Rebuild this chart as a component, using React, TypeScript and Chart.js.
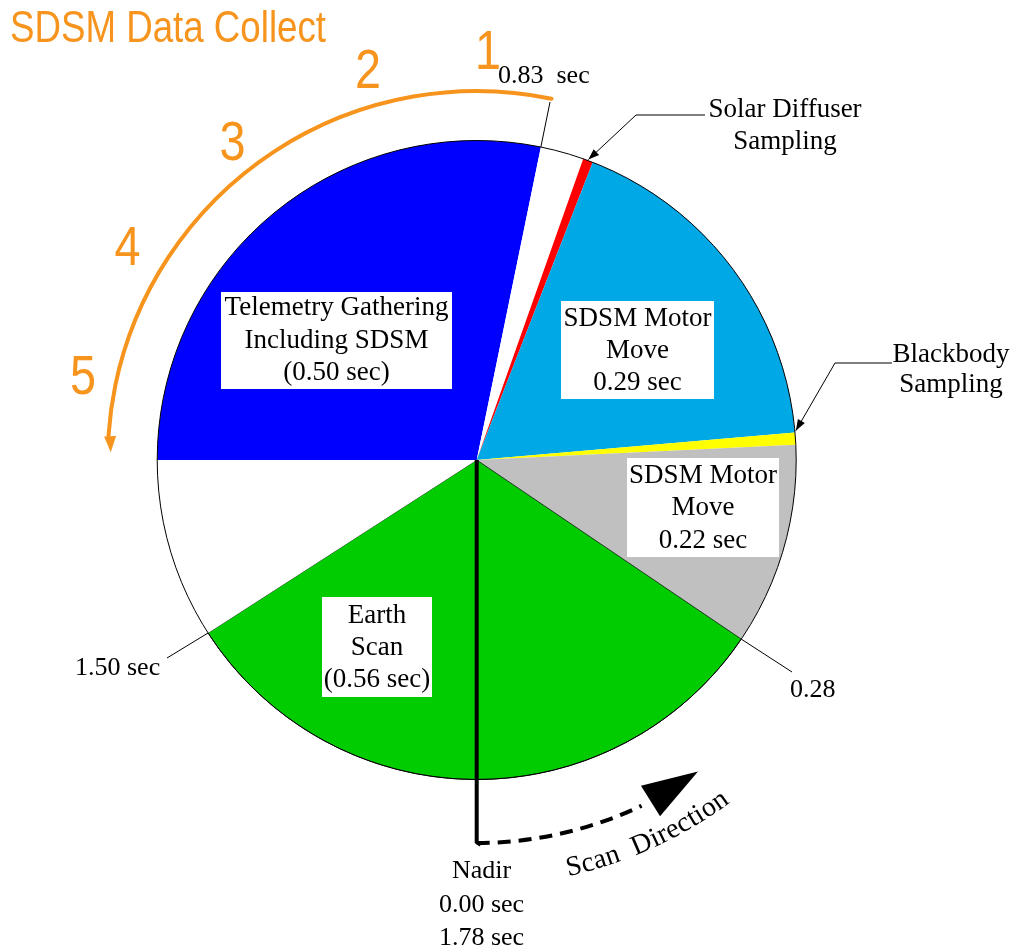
import React, { useEffect, useRef } from "react";
import { Chart, registerables } from "chart.js";

Chart.register(...registerables);

// ---- data (seconds of the 1.78 s scan) ----
const segmentNames = [
  "Telemetry Gathering Including SDSM",
  "Gap (after 0.83 sec)",
  "Solar Diffuser Sampling",
  "SDSM Motor Move (0.29 sec)",
  "Blackbody Sampling",
  "SDSM Motor Move (0.22 sec)",
  "Earth Scan",
  "Gap (before 1.50 sec)",
];
const segmentSeconds = [0.502, 0.039, 0.009, 0.315, 0.011, 0.182, 0.559, 0.162];
const segmentColors = ["#0000FF", "#FFFFFF", "#FF0000", "#00A8E6", "#FFFF00", "#C0C0C0", "#00CC00", "#FFFFFF"];
const segmentBorderWidths = [0, 0, 0, 0, 0, 0, 1, 0];

const TITLE = "SDSM Data Collect";
const stepLabels = ["1", "2", "3", "4", "5"];
const telemetryLabel = ["Telemetry Gathering", "Including SDSM", "(0.50 sec)"];
const motorMove1Label = ["SDSM Motor", "Move", "0.29 sec"];
const motorMove2Label = ["SDSM Motor", "Move", "0.22 sec"];
const earthLabel = ["Earth", "Scan", "(0.56 sec)"];
const solarLabel = ["Solar Diffuser", "Sampling"];
const blackbodyLabel = ["Blackbody", "Sampling"];
const nadirLabel = ["Nadir", "0.00 sec", "1.78 sec"];
const time083 = "0.83  sec";
const time150 = "1.50 sec";
const time028 = "0.28";
const scanText = "Scan  Direction";

const ORANGE = "#F7941D";
const SERIF = "'Liberation Serif', 'Times New Roman', serif";
const SANS = "'Liberation Sans Narrow', 'Arial Narrow', 'Liberation Sans', Arial, sans-serif";

const rad = (d: number) => (d * Math.PI) / 180;

const overlayPlugin = {
  id: "sdsmOverlay",
  afterDatasetsDraw(chart: any) {
    const ctx: CanvasRenderingContext2D = chart.ctx;
    const arcs = chart.getDatasetMeta(0).data as any[];
    const cx = arcs[0].x;
    const cy = arcs[0].y;
    const R = arcs[0].outerRadius;
    const P = (theta: number, r: number) => [cx + r * Math.sin(rad(theta)), cy - r * Math.cos(rad(theta))];
    const boundary = (i: number) => ((arcs[i].startAngle + Math.PI / 2) * 180) / Math.PI;
    const endB = (i: number) => ((arcs[i].endAngle + Math.PI / 2) * 180) / Math.PI;

    ctx.save();
    ctx.beginPath();
    ctx.arc(cx, cy, R, 0, Math.PI * 2);
    ctx.lineWidth = 1;
    ctx.strokeStyle = "#000";
    ctx.stroke();

    ctx.beginPath();
    ctx.moveTo(cx, cy);
    ctx.lineTo(cx, cy + 382);
    ctx.lineTo(cx + 4, cy + 385);
    ctx.lineWidth = 4;
    ctx.strokeStyle = "#000";
    ctx.stroke();

    const arrowHead = (fx: number, fy: number, tx: number, ty: number, len: number, hw: number, color: string) => {
      const a = Math.atan2(ty - fy, tx - fx);
      const bx = tx - len * Math.cos(a);
      const by = ty - len * Math.sin(a);
      ctx.beginPath();
      ctx.moveTo(tx, ty);
      ctx.lineTo(bx + hw * Math.sin(a), by - hw * Math.cos(a));
      ctx.lineTo(bx - hw * Math.sin(a), by + hw * Math.cos(a));
      ctx.closePath();
      ctx.fillStyle = color;
      ctx.fill();
    };

    const box = (lines: string[], bx: number, by: number, bw: number, bh: number, tx: number, baselines: number[]) => {
      ctx.fillStyle = "#FFFFFF";
      ctx.fillRect(cx + bx, cy + by, bw, bh);
      ctx.fillStyle = "#000";
      ctx.font = `27px ${SERIF}`;
      ctx.textAlign = "center";
      ctx.textBaseline = "alphabetic";
      lines.forEach((l, i) => ctx.fillText(l, cx + tx, cy + baselines[i]));
    };
    box(telemetryLabel, -255.7, -168, 231, 97, -140.2, [-145, -112, -80]);
    box(motorMove1Label, 84.3, -159, 153, 98, 160.8, [-134, -102, -70]);
    box(motorMove2Label, 150.3, -2, 152, 99, 226.3, [23, 55, 88]);
    box(earthLabel, -154.7, 137, 110, 100, -99.7, [163, 195, 227]);

    ctx.fillStyle = "#000";
    ctx.font = `26px ${SERIF}`;
    ctx.textAlign = "left";
    ctx.fillText(time083, cx + 21.3, cy - 377);
    ctx.fillText(time150, cx - 401.7, cy + 215);
    ctx.fillText(time028, cx + 313.3, cy + 237);
    ctx.font = `27px ${SERIF}`;
    ctx.textAlign = "center";
    ctx.fillText(solarLabel[0], cx + 308.3, cy - 343);
    ctx.fillText(solarLabel[1], cx + 308.3, cy - 311);
    ctx.fillText(blackbodyLabel[0], cx + 474.3, cy - 98);
    ctx.fillText(blackbodyLabel[1], cx + 474.3, cy - 68);
    ctx.font = `26px ${SERIF}`;
    ctx.fillText(nadirLabel[0], cx + 4.8, cy + 418);
    ctx.fillText(nadirLabel[1], cx + 4.8, cy + 452);
    ctx.fillText(nadirLabel[2], cx + 4.8, cy + 485);

    ctx.lineWidth = 1;
    ctx.strokeStyle = "#000";
    const gapStart = boundary(1);
    const [g1x, g1y] = P(gapStart, R);
    ctx.beginPath();
    ctx.moveTo(cx + 73.3, cy - 358);
    ctx.lineTo(g1x, g1y);
    ctx.stroke();

    const solarMid = (boundary(2) + endB(2)) / 2;
    const [sx, sy] = P(solarMid, R + 1);
    ctx.beginPath();
    ctx.moveTo(cx + 228.3, cy - 345);
    ctx.lineTo(cx + 159.3, cy - 345);
    ctx.lineTo(sx, sy);
    ctx.stroke();
    arrowHead(cx + 159.3, cy - 345, sx, sy, 11, 4, "#000");

    const bbMid = boundary(4) - 0.3;
    const [bbx, bby] = P(bbMid, R + 1);
    ctx.beginPath();
    ctx.moveTo(cx + 415.3, cy - 97);
    ctx.lineTo(cx + 358.3, cy - 97);
    ctx.lineTo(bbx, bby);
    ctx.stroke();
    arrowHead(cx + 358.3, cy - 97, bbx, bby, 11, 4, "#000");

    const [lx, ly] = P(endB(6), R);
    ctx.beginPath();
    ctx.moveTo(cx - 309.7, cy + 198);
    ctx.lineTo(lx, ly);
    ctx.stroke();

    const [rx, ry] = P(boundary(6), R);
    ctx.beginPath();
    ctx.moveTo(rx, ry);
    ctx.lineTo(cx + 315.3, cy + 212);
    ctx.stroke();

    // orange data-collect arc with arrow
    ctx.beginPath();
    ctx.arc(cx, cy, 369, rad(11.7 - 90), rad(273.8 - 90 - 360), true);
    ctx.strokeStyle = ORANGE;
    ctx.lineWidth = 4;
    ctx.lineCap = "round";
    ctx.stroke();
    ctx.lineCap = "butt";
    {
      const [fx, fy] = P(274.5, 368);
      const [tx, ty] = P(271.2, 366);
      arrowHead(fx, fy, tx, ty, 16, 6, ORANGE);
    }

    ctx.fillStyle = ORANGE;
    ctx.font = `56px ${SANS}`;
    ctx.textAlign = "center";
    const numPos = [
      [11.3, -391],
      [-108.7, -372],
      [-244.2, -300],
      [-349.2, -195],
      [-393.7, -66],
    ];
    const probe = ctx.measureText("3").width;
    const numScale = Math.min(1, 26 / probe);
    stepLabels.forEach((s, i) => {
      ctx.save();
      ctx.translate(cx + numPos[i][0], cy + numPos[i][1]);
      ctx.scale(numScale, 1);
      ctx.fillText(s, 0, 0);
      ctx.restore();
    });

    ctx.font = `44px ${SANS}`;
    ctx.textAlign = "left";
    const tw = ctx.measureText(TITLE).width;
    ctx.save();
    ctx.translate(10, 42);
    ctx.scale(Math.min(1.2, 316 / tw), 1);
    ctx.fillText(TITLE, 0, 0);
    ctx.restore();

    // dashed scan direction arc
    ctx.beginPath();
    ctx.arc(cx, cy, 383, rad(180 - 90), rad(154.5 - 90), true);
    ctx.setLineDash([13, 8]);
    ctx.lineWidth = 4;
    ctx.strokeStyle = "#000";
    ctx.stroke();
    ctx.setLineDash([]);
    {
      const [fx, fy] = P(153.3, 383);
      const [tx, ty] = P(144.6, 382);
      arrowHead(fx, fy, tx, ty, 56, 18, "#000");
    }

    // "Scan Direction" along the arc
    ctx.font = `28px ${SERIF}`;
    ctx.fillStyle = "#000";
    ctx.textAlign = "center";
    const rText = 426;
    const theta0 = 167.6;
    const theta1 = 143.5;
    const chars = scanText.split("");
    const widths = chars.map((c) => ctx.measureText(c).width);
    const natural = widths.reduce((a, b) => a + b, 0);
    const target = rad(theta0 - theta1) * rText;
    const extra = (target - natural) / (chars.length - 1);
    let s = 0;
    chars.forEach((c, i) => {
      const mid = s + widths[i] / 2;
      const th = theta0 - (mid / rText) * (180 / Math.PI);
      const [px, py] = P(th, rText);
      ctx.save();
      ctx.translate(px, py);
      ctx.rotate(rad(th - 180));
      ctx.fillText(c, 0, 0);
      ctx.restore();
      s += widths[i] + extra;
    });

    ctx.restore();
  },
};

export default function App() {
  const ref = useRef<HTMLCanvasElement | null>(null);
  useEffect(() => {
    if (!ref.current) return;
    const chart = new Chart(ref.current, {
      type: "pie",
      data: {
        labels: segmentNames,
        datasets: [
          {
            data: segmentSeconds,
            backgroundColor: segmentColors,
            borderColor: segmentColors.map((c, i) => (i === 6 ? "#1E3A1E" : c)),
            borderWidth: segmentBorderWidths,
            hoverOffset: 0,
            offset: 0,
          } as any,
        ],
      },
      options: {
        responsive: false,
        maintainAspectRatio: false,
        animation: false,
        rotation: 270,
        layout: { padding: { left: 156.7, top: 140, right: 217.3, bottom: 171 } },
        plugins: {
          legend: { display: false },
          tooltip: { enabled: false },
          title: { display: false },
        },
        events: [],
      },
      plugins: [overlayPlugin],
    });
    return () => chart.destroy();
  }, []);
  return (
    <div style={{ position: "absolute", left: 0, top: 0, width: 1014, height: 951, background: "#fff" }}>
      <canvas ref={ref} width={1014} height={951} />
    </div>
  );
}
